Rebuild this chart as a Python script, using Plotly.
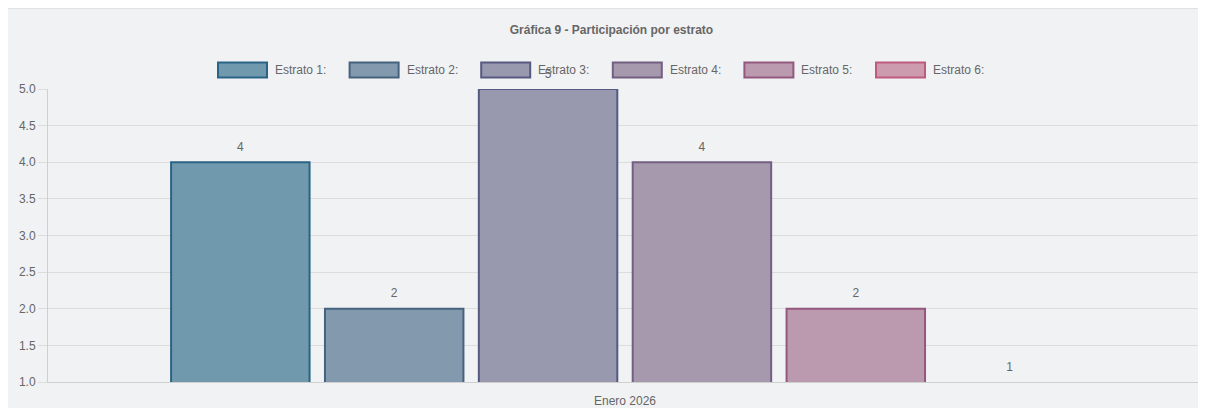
import plotly.graph_objects as go

categoria = ["Enero 2026"]
estratos = ["Estrato 1:", "Estrato 2:", "Estrato 3:", "Estrato 4:", "Estrato 5:", "Estrato 6:"]
valores = [4, 2, 5, 4, 2, 1]
rellenos = ["#7199ae", "#8399ad", "#9898ae", "#a698ad", "#bb9aaf", "#cc9bad"]
bordes = ["#2a6484", "#45627f", "#565a80", "#735f81", "#94587e", "#c05a7e"]

W, H = 1195, 400
ML, MR, MT, MB = 40, 1, 81, 26
PW, PH = W - ML - MR, H - MT - MB
YMIN, YMAX = 1, 5


def px_x(x):
    return (x - ML) / PW


def px_y(y):
    return (H - MB - y) / PH


fig = go.Figure()
for nombre, v, c, b in zip(estratos, valores, rellenos, bordes):
    fig.add_trace(go.Bar(
        x=categoria, y=[v], name=nombre,
        # sin borde si la barra no sobresale del mínimo del eje (como chart.js)
        marker=dict(color=c, line=dict(color=b, width=2 if v > YMIN else 0)),
        cliponaxis=True, showlegend=False,
    ))
# etiquetas de valor encima de cada barra
for nombre, v in zip(estratos, valores):
    fig.add_trace(go.Scatter(
        x=categoria, y=[v], mode="markers+text", text=[v], textposition="top center",
        marker=dict(size=12, color="rgba(0,0,0,0)"),
        cliponaxis=False, showlegend=False, hoverinfo="skip",
        textfont=dict(size=12, color="#666666"),
    ))

fig.update_layout(
    width=W, height=H,
    margin=dict(l=ML, r=MR, t=MT, b=MB),
    paper_bgcolor="#f1f2f4",
    plot_bgcolor="#f1f2f4",
    font=dict(family="Liberation Sans, Arial, sans-serif", size=12, color="#666666"),
    barmode="group", bargap=0.2, bargroupgap=0.1,
    scattermode="group", scattergap=0.2,
    showlegend=False,
    title=dict(text="<b>Gráfica 9 - Participación por estrato</b>",
               x=0.505, xanchor="center", y=1 - 22 / H, yanchor="middle",
               font=dict(size=12, color="#666666")),
)

# leyenda tipo chart.js (cajas anchas)
x0, paso, ancho, alto, cy = 210, 131.6, 49, 15, 62
for i, (nombre, c, b) in enumerate(zip(estratos, rellenos, bordes)):
    bx = x0 + paso * i
    fig.add_shape(type="rect", xref="paper", yref="paper",
                  x0=px_x(bx), x1=px_x(bx + ancho),
                  y0=px_y(cy + alto / 2), y1=px_y(cy - alto / 2),
                  fillcolor=c, line=dict(color=b, width=2))
    fig.add_annotation(xref="paper", yref="paper", x=px_x(bx + ancho + 6), y=px_y(cy),
                       text=nombre, showarrow=False, xanchor="left", yanchor="middle",
                       font=dict(size=12, color="#666666"))

# borde superior del panel
fig.add_shape(type="line", xref="paper", yref="paper",
              x0=px_x(0), x1=px_x(W), y0=px_y(0.5), y1=px_y(0.5),
              line=dict(color="#e0e1e3", width=1))

fig.update_yaxes(range=[YMIN, YMAX], dtick=0.5, tickformat=".1f",
                 gridcolor="#dcdcdc", gridwidth=1, zeroline=False,
                 showline=True, linecolor="#cfcfcf", linewidth=1,
                 ticks="outside", ticklen=9, tickcolor="#dcdcdc",
                 tickfont=dict(size=12, color="#666666"))
fig.update_xaxes(showline=True, linecolor="#cfcfcf", linewidth=1,
                 ticks="", ticklabelstandoff=8, tickfont=dict(size=12, color="#666666"))

fig.write_html("out.html")
